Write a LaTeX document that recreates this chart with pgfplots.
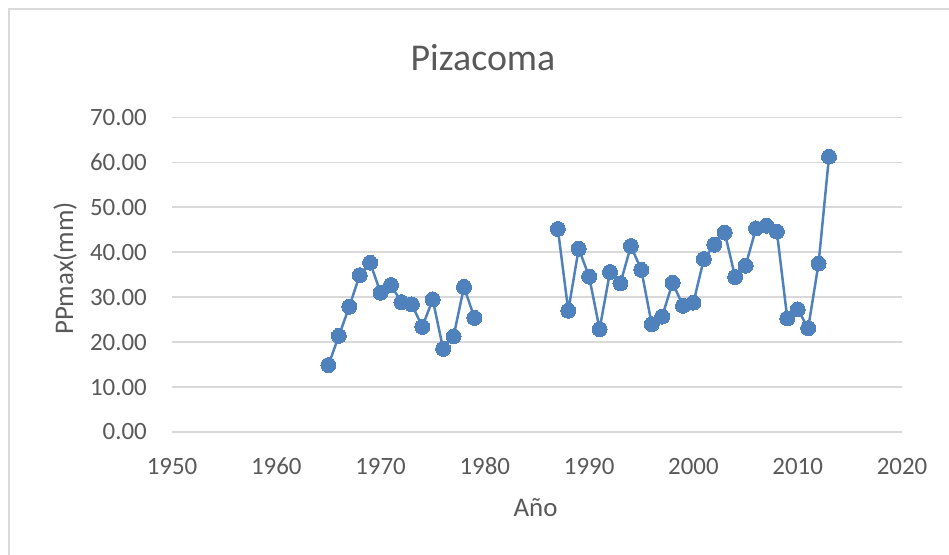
\documentclass[border=0pt]{standalone}
\usepackage{pgfplots}
\pgfplotsset{compat=1.18}
\usepackage{fontspec}
\setmainfont{Carlito}
\definecolor{txt}{HTML}{595959}
\definecolor{gridc}{HTML}{D9D9D9}
\definecolor{ser}{HTML}{4F81BD}
\begin{document}
\begin{tikzpicture}
\path[use as bounding box] (0,0) rectangle (949bp,555bp);
\draw[gridc, line width=1.2bp] (9bp,0) -- (9bp,546bp) -- (949bp,546bp);
\begin{axis}[
  at={(172bp,123bp)}, anchor=south west,
  scale only axis, width=730bp, height=314.5bp,
  xmin=1950, xmax=2020, ymin=0, ymax=70,
  xtick={1950,1960,...,2020}, ytick={0,10,...,70},
  ymajorgrids, grid style={gridc, line width=1.8bp},
  axis line style={draw=none}, major tick length=0pt,
  /pgf/number format/assume math mode=true,
  x tick label style={/pgf/number format/1000 sep={}, font=\fontsize{25}{27}\selectfont, text=txt, anchor=base, inner sep=0pt, yshift=-42bp},
  y tick label style={/pgf/number format/.cd, fixed, fixed zerofill, precision=2, /tikz/.cd, font=\fontsize{25}{27}\selectfont, text=txt, anchor=east, inner sep=0pt, xshift=-25bp},
  title={Pizacoma},
  title style={at={(axis description cs:0.426,1.129)}, anchor=base, yshift=0pt, inner sep=0pt, font=\fontsize{38}{40}\selectfont, text=txt},
  xlabel={Año},
  xlabel style={at={(axis description cs:0.498,-0.2693)}, anchor=base, inner sep=0pt, font=\fontsize{27}{29}\selectfont, text=txt},
  ylabel={PPmax(mm)},
  ylabel style={at={(axis description cs:-0.1356,0.52)}, anchor=base, rotate=0, inner sep=0pt, font=\fontsize{27}{29}\selectfont, text=txt},
  unbounded coords=jump,
  clip=false,
]
\addplot[color=ser, line width=2.5bp, mark=*, mark size=7.5bp, mark options={solid, fill=ser, draw=ser, line width=0pt}] table {
x y
1965 14.9
1966 21.4
1967 27.9
1968 34.9
1969 37.7
1970 31.0
1971 32.7
1972 28.9
1973 28.4
1974 23.4
1975 29.5
1976 18.5
1977 21.3
1978 32.3
1979 25.4
1983 nan
1987 45.2
1988 27.0
1989 40.8
1990 34.6
1991 22.9
1992 35.6
1993 33.1
1994 41.4
1995 36.1
1996 24.0
1997 25.7
1998 33.2
1999 28.1
2000 28.8
2001 38.5
2002 41.7
2003 44.4
2004 34.5
2005 37.0
2006 45.3
2007 45.9
2008 44.6
2009 25.3
2010 27.3
2011 23.1
2012 37.5
2013 61.3
};
\end{axis}
\end{tikzpicture}
\end{document}
